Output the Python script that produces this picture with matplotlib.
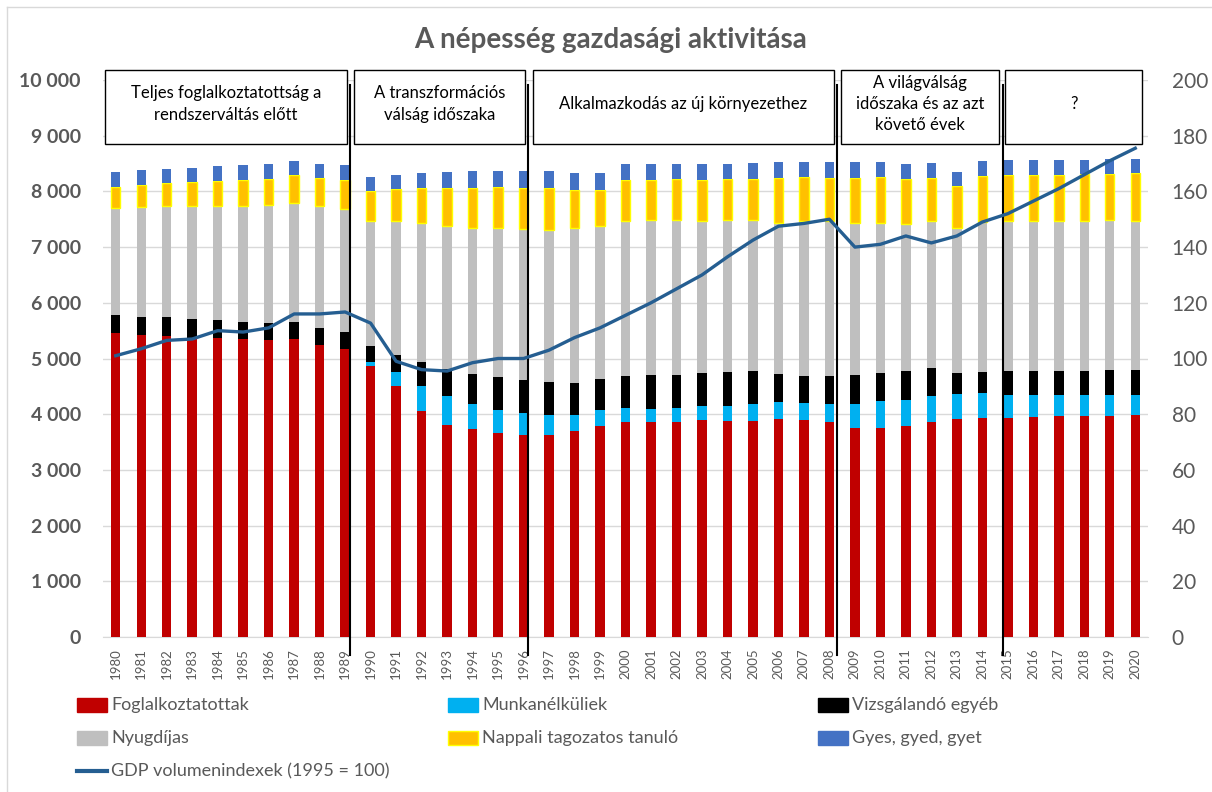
import matplotlib
matplotlib.use("Agg")
import matplotlib.pyplot as plt
from matplotlib.patches import Rectangle
from matplotlib.lines import Line2D
import numpy as np

plt.rcParams['font.family'] = ['Lato', 'DejaVu Sans']

# Adatok (ezer fő) - leolvasva az ábráról
years = list(range(1980, 2021))

foglalkoztatottak = [5450, 5420, 5410, 5350, 5370, 5350, 5330, 5350, 5240, 5170,
                     4860, 4500, 4060, 3810, 3730, 3660, 3630, 3630, 3690, 3790,
                     3860, 3860, 3860, 3900, 3880, 3880, 3910, 3900, 3860, 3760,
                     3760, 3790, 3860, 3920, 3930, 3940, 3950, 3960, 3960, 3970, 3980]
munkanelkuliek = [0, 0, 0, 0, 0, 0, 0, 0, 0, 0,
                  80, 260, 450, 520, 450, 420, 400, 350, 300, 290,
                  260, 240, 250, 250, 260, 300, 310, 310, 330, 430,
                  480, 470, 470, 450, 450, 400, 390, 380, 380, 370, 360]
vizsgalando = [330, 330, 330, 360, 320, 310, 310, 300, 310, 300,
               280, 310, 430, 480, 540, 590, 590, 600, 570, 550,
               560, 600, 590, 590, 620, 590, 500, 480, 490, 520,
               500, 510, 500, 370, 380, 440, 440, 440, 440, 460, 450]
nyugdijas = [1930, 1970, 1990, 2020, 2050, 2080, 2110, 2140, 2180, 2210,
             2240, 2390, 2500, 2570, 2630, 2680, 2700, 2730, 2780, 2740,
             2790, 2790, 2780, 2730, 2720, 2710, 2720, 2780, 2790, 2720,
             2690, 2650, 2630, 2600, 2690, 2690, 2680, 2680, 2690, 2680, 2680]
nappali = [370, 400, 420, 440, 450, 470, 480, 500, 510, 530,
           550, 580, 620, 690, 720, 730, 750, 750, 690, 660,
           730, 720, 740, 730, 740, 740, 800, 780, 770, 810,
           830, 800, 780, 750, 820, 820, 830, 840, 840, 840, 860]
gyes = [260, 260, 260, 250, 260, 260, 260, 250, 260, 260,
        250, 260, 270, 280, 290, 290, 290, 300, 300, 300,
        290, 280, 280, 290, 280, 290, 280, 270, 290, 280,
        260, 280, 270, 260, 270, 270, 270, 270, 260, 260, 260]
gdp = [101, 103.5, 106.5, 107, 110, 109.5, 111, 116, 116, 116.7,
       112.7, 99, 96, 95.5, 98.5, 100, 100, 103, 107.5, 111,
       115.5, 120, 125, 130, 136.5, 142.5, 147.5, 148.5, 150, 140,
       141, 144, 141.5, 144, 149, 152, 156.5, 161, 166, 171, 175.5]

series = [
    ("Foglalkoztatottak", foglalkoztatottak, "#C00000", "none"),
    ("Munkanélküliek", munkanelkuliek, "#00B0F0", "none"),
    ("Vizsgálandó egyéb", vizsgalando, "#000000", "none"),
    ("Nyugdíjas", nyugdijas, "#BFBFBF", "none"),
    ("Nappali tagozatos tanuló", nappali, "#FFC000", "#FFFF00"),
    ("Gyes, gyed, gyet", gyes, "#4472C4", "none"),
]
gdp_label = "GDP volumenindexek (1995 = 100)"
line_color = "#255E91"
txt_color = "#595959"

# Időszakok: (felirat, bal szél, jobb szél) kategória-indexben
periods = [
    ("Teljes foglalkoztatottság a\nrendszerváltás előtt", -0.42, 9.07),
    ("A transzformációs\nválság időszaka", 9.35, 16.06),
    ("Alkalmazkodás az új környezethez", 16.37, 28.18),
    ("A világválság\nidőszaka és az azt\nkövető évek", 28.45, 34.67),
    ("?", 34.89, 40.28),
]
separators = [9.19, 16.18, 28.3, 34.81]

W, H = 1212, 792
fig = plt.figure(figsize=(W / 100, H / 100), dpi=100)
ax = fig.add_axes([103 / W, 1 - 637 / H, 1045 / W, 557 / H])

x = np.arange(len(years))
bottom = np.zeros(len(years))
for name, vals, col, edge in series:
    vals = np.array(vals, dtype=float)
    ax.bar(x, vals, width=0.37, bottom=bottom, color=col, edgecolor=edge,
           linewidth=1.0 if edge != "none" else 0, zorder=3)
    bottom += vals

ax.set_xlim(-0.5, len(years) - 0.5)
ax.set_ylim(0, 10000)
ax.set_yticks(np.arange(0, 10001, 1000))
ax.set_yticklabels([f"{v:,}".replace(",", " ") for v in range(0, 10001, 1000)],
                   fontsize=14, fontweight="bold", color=txt_color)
ax.set_xticks(x)
ax.set_xticklabels([str(y) for y in years], rotation=90, fontsize=9.5,
                   color=txt_color)
ax.tick_params(axis="y", length=0, pad=16)
ax.tick_params(axis="x", length=0, pad=8)
ax.grid(axis="y", color="#D9D9D9", linewidth=1.0, zorder=0)
ax.set_axisbelow(True)
for s in ["top", "right", "left"]:
    ax.spines[s].set_visible(False)
ax.spines["bottom"].set_color("#D9D9D9")

# Időszak dobozok és elválasztó vonalak
for label, x0, x1 in periods:
    ax.add_patch(Rectangle((x0, 8850), x1 - x0, 1330, facecolor="white",
                           edgecolor="black", linewidth=1.0, zorder=5,
                           clip_on=False))
    ax.text((x0 + x1) / 2, 9570, label, ha="center", va="center",
            fontsize=12, color="black", linespacing=1.4, zorder=6)
for sx in separators:
    ax.plot([sx, sx], [-330, 9910], color="black", linewidth=1.5,
            zorder=7, clip_on=False)

# GDP a jobb tengelyen
ax2 = ax.twinx()
ax2.plot(x, gdp, color=line_color, linewidth=2.4, zorder=8)
ax2.set_ylim(0, 200)
ax2.set_yticks(np.arange(0, 201, 20))
ax2.set_yticklabels([str(v) for v in range(0, 201, 20)], fontsize=15,
                    color=txt_color)
ax2.tick_params(axis="y", length=0, pad=17)
for s in ax2.spines.values():
    s.set_visible(False)

fig.text(611 / W, 1 - 40 / H, "A népesség gazdasági aktivitása",
         ha="center", va="center", fontsize=20, fontweight="bold",
         color=txt_color)

# Jelmagyarázat
col_x = [77, 448, 818]
row_y = [705, 738, 771]
for i, (name, vals, col, edge) in enumerate(series):
    px = col_x[i % 3]
    py = row_y[i // 3]
    fig.add_artist(Rectangle((px / W, 1 - (py + 7) / H), 30 / W, 14 / H,
                             facecolor=col,
                             edgecolor=edge if edge != "none" else col,
                             linewidth=1.0, transform=fig.transFigure))
    fig.text((px + 34) / W, 1 - py / H, name, ha="left", va="center",
             fontsize=13, color=txt_color)
fig.add_artist(Line2D([77 / W, 107 / W], [1 - row_y[2] / H] * 2,
                      color=line_color, linewidth=3, transform=fig.transFigure))
fig.text(111 / W, 1 - row_y[2] / H, gdp_label, ha="left", va="center",
         fontsize=13, color=txt_color)

# Diagram keret
fig.add_artist(Line2D([7 / W, 7 / W], [0, 1 - 7 / H], color="#D9D9D9",
                      linewidth=1, transform=fig.transFigure))
fig.add_artist(Line2D([7 / W, 1], [1 - 7 / H] * 2, color="#D9D9D9",
                      linewidth=1, transform=fig.transFigure))

fig.savefig("out.png", dpi=100)
